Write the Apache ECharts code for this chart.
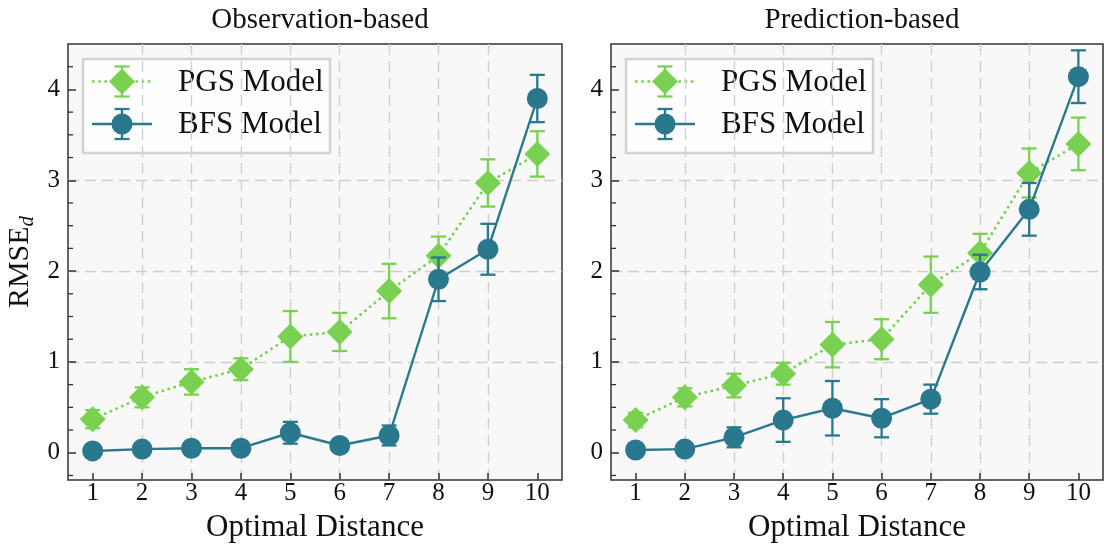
<!DOCTYPE html>
<html>
<head>
<meta charset="utf-8">
<script src="https://cdn.jsdelivr.net/npm/echarts@6/dist/echarts.min.js"></script>
<style>
  html, body { margin: 0; padding: 0; background: #ffffff; }
  #chart { width: 1104px; height: 548px; }
</style>
</head>
<body>
<div id="chart"></div>
<script>
// Optimal distance values on the x axis
const distances = [1, 2, 3, 4, 5, 6, 7, 8, 9, 10];

// Observation-based panel: mean RMSE_d and half-width of the error bars
const obsPGS    = [0.37, 0.61, 0.78, 0.92, 1.28, 1.33, 1.78, 2.17, 2.97, 3.29];
const obsPGSErr = [0.10, 0.11, 0.14, 0.12, 0.28, 0.21, 0.30, 0.21, 0.26, 0.25];
const obsBFS    = [0.02, 0.04, 0.05, 0.05, 0.22, 0.08, 0.19, 1.91, 2.24, 3.90];
const obsBFSErr = [0.01, 0.01, 0.01, 0.01, 0.12, 0.01, 0.11, 0.24, 0.28, 0.26];

// Prediction-based panel
const predPGS    = [0.36, 0.61, 0.74, 0.87, 1.19, 1.25, 1.85, 2.20, 3.08, 3.40];
const predPGSErr = [0.08, 0.10, 0.13, 0.12, 0.25, 0.22, 0.31, 0.21, 0.27, 0.29];
const predBFS    = [0.03, 0.04, 0.17, 0.36, 0.49, 0.38, 0.59, 1.99, 2.68, 4.14];
const predBFSErr = [0.01, 0.01, 0.11, 0.24, 0.30, 0.21, 0.16, 0.19, 0.29, 0.29];

// Tick positions
const xTicks = [1, 2, 3, 4, 5, 6, 7, 8, 9, 10];
const yTicks = [0, 1, 2, 3, 4];
const yMinorTicks = [-0.25, 0.25, 0.5, 0.75, 1.25, 1.5, 1.75, 2.25, 2.5, 2.75,
                     3.25, 3.5, 3.75, 4.25];

const panelTitles = ['Observation-based', 'Prediction-based'];
const seriesNames = ['PGS Model', 'BFS Model'];

const GREEN = '#7ad151';
const TEAL = '#2a788e';
const FONT = '"Liberation Serif", "DejaVu Serif", serif';
const INK = '#111111';
const X_MIN = 0.5, X_MAX = 10.5, Y_MIN = -0.3, Y_MAX = 4.5;

const grids = [
  { left: 68, top: 44, width: 494, height: 438 },
  { left: 611, top: 44, width: 492, height: 438 }
];

const chart = echarts.init(document.getElementById('chart'), null, { renderer: 'canvas' });

function pairs(ys) { return distances.map((x, i) => [x, ys[i]]); }
function triples(ys, es) { return distances.map((x, i) => [x, ys[i], es[i]]); }

// Vertical error bar with caps, positioned through the axis scales
function errorBar(color) {
  return function (params, api) {
    const x = api.value(0), y = api.value(1), e = api.value(2);
    const hi = api.coord([x, y + e]);
    const lo = api.coord([x, y - e]);
    const hw = 7.5;
    const style = { stroke: color, lineWidth: 2.3 };
    return {
      type: 'group',
      children: [
        { type: 'line', shape: { x1: hi[0], y1: hi[1], x2: lo[0], y2: lo[1] }, style },
        { type: 'line', shape: { x1: hi[0] - hw, y1: hi[1], x2: hi[0] + hw, y2: hi[1] }, style },
        { type: 'line', shape: { x1: lo[0] - hw, y1: lo[1], x2: lo[0] + hw, y2: lo[1] }, style }
      ]
    };
  };
}

// Short inward minor tick on the left spine at each quarter step
function minorTick(params, api) {
  const p = api.coord([api.value(0), api.value(1)]);
  return {
    type: 'line',
    shape: { x1: p[0], y1: p[1], x2: p[0] + 5, y2: p[1] },
    style: { stroke: '#333333', lineWidth: 1.3 }
  };
}

const gridLine = { color: '#cfcfcf', width: 1.4, type: [11, 6] };

const xAxes = grids.map((g, i) => ({
  gridIndex: i, type: 'value', min: X_MIN, max: X_MAX, splitNumber: 10,
  name: 'Optimal Distance', nameLocation: 'middle', nameGap: 32,
  nameTextStyle: { fontFamily: FONT, fontSize: 31, color: INK },
  axisLine: { show: false, onZero: false },
  axisTick: { show: true, inside: true, length: 7, customValues: xTicks,
              lineStyle: { color: '#333', width: 1.5 } },
  axisLabel: { customValues: xTicks, fontFamily: FONT, fontSize: 25, color: INK, margin: 1 },
  splitLine: { show: true, showMinLine: false, showMaxLine: false, lineStyle: gridLine }
}));

const yAxes = grids.map((g, i) => {
  const ax = {
    gridIndex: i, type: 'value', min: Y_MIN, max: Y_MAX, splitNumber: 5,
    axisLine: { show: false, onZero: false },
    axisTick: { show: true, inside: true, length: 8, customValues: yTicks,
                lineStyle: { color: '#333', width: 1.5 } },
    axisLabel: { customValues: yTicks, fontFamily: FONT, fontSize: 25, color: INK, margin: 8 },
    splitLine: { show: true, showMinLine: false, showMaxLine: false, lineStyle: gridLine }
  };
  if (i === 0) {
    ax.name = '{m|RMSE}{s|d}';
    ax.nameLocation = 'middle';
    ax.nameRotate = 90;
    ax.nameGap = 30;
    ax.nameTextStyle = {
      rich: {
        m: { fontFamily: FONT, fontSize: 30, color: INK },
        s: { fontFamily: FONT, fontSize: 21, fontStyle: 'italic', color: INK,
             verticalAlign: 'bottom', padding: [14, 0, 0, 0] }
      }
    };
  }
  return ax;
});

const panels = [
  { pgs: obsPGS, pgsErr: obsPGSErr, bfs: obsBFS, bfsErr: obsBFSErr },
  { pgs: predPGS, pgsErr: predPGSErr, bfs: predBFS, bfsErr: predBFSErr }
];

const series = [];
panels.forEach((p, i) => {
  series.push({
    type: 'custom', xAxisIndex: i, yAxisIndex: i, z: 1, silent: true, clip: false,
    renderItem: minorTick, data: yMinorTicks.map((v) => [X_MIN, v]),
    encode: { x: 0, y: 1 }
  });
  series.push({
    type: 'custom', name: seriesNames[0], xAxisIndex: i, yAxisIndex: i, z: 2,
    renderItem: errorBar(GREEN), data: triples(p.pgs, p.pgsErr),
    encode: { x: 0, y: 1 }, silent: true
  });
  series.push({
    type: 'line', name: seriesNames[0], xAxisIndex: i, yAxisIndex: i, z: 3,
    data: pairs(p.pgs), symbol: 'diamond', symbolSize: 26, showSymbol: true,
    itemStyle: { color: GREEN },
    lineStyle: { color: GREEN, width: 2.6, type: [2.6, 3.6] }
  });
  series.push({
    type: 'custom', name: seriesNames[1], xAxisIndex: i, yAxisIndex: i, z: 4,
    renderItem: errorBar(TEAL), data: triples(p.bfs, p.bfsErr),
    encode: { x: 0, y: 1 }, silent: true
  });
  series.push({
    type: 'line', name: seriesNames[1], xAxisIndex: i, yAxisIndex: i, z: 5,
    data: pairs(p.bfs), symbol: 'circle', symbolSize: 21, showSymbol: true,
    itemStyle: { color: TEAL },
    lineStyle: { color: TEAL, width: 2.4, type: 'solid' }
  });
});

// Legend boxes in the upper-left corner of each panel
const graphics = [];
grids.forEach((g) => {
  const bx = g.left + 15, by = 59, bw = 247, bh = 94;
  const rows = [
    { y: 81.5, color: GREEN, dash: [2.6, 3.6], lw: 2.6, sym: 'diamond', label: seriesNames[0] },
    { y: 124, color: TEAL, dash: null, lw: 2.4, sym: 'circle', label: seriesNames[1] }
  ];
  const children = [{
    type: 'rect', shape: { x: bx, y: by, width: bw, height: bh },
    style: { fill: 'rgba(255,255,255,0.8)', stroke: '#d2d2d2', lineWidth: 2.5 }
  }];
  rows.forEach((r) => {
    const x1 = g.left + 24, x2 = g.left + 84, cx = g.left + 54;
    children.push({ type: 'line', shape: { x1, y1: r.y, x2, y2: r.y },
      style: { stroke: r.color, lineWidth: r.lw, lineDash: r.dash } });
    children.push({ type: 'line', shape: { x1: cx, y1: r.y - 15, x2: cx, y2: r.y + 15 },
      style: { stroke: r.color, lineWidth: 2.3 } });
    children.push({ type: 'line', shape: { x1: cx - 7.5, y1: r.y - 15, x2: cx + 7.5, y2: r.y - 15 },
      style: { stroke: r.color, lineWidth: 2.3 } });
    children.push({ type: 'line', shape: { x1: cx - 7.5, y1: r.y + 15, x2: cx + 7.5, y2: r.y + 15 },
      style: { stroke: r.color, lineWidth: 2.3 } });
    if (r.sym === 'diamond') {
      children.push({ type: 'polygon',
        shape: { points: [[cx, r.y - 13], [cx + 13, r.y], [cx, r.y + 13], [cx - 13, r.y]] },
        style: { fill: r.color } });
    } else {
      children.push({ type: 'circle', shape: { cx, cy: r.y, r: 10.5 }, style: { fill: r.color } });
    }
    children.push({ type: 'text', x: g.left + 110, y: r.y + 1,
      style: { text: r.label, fill: INK, font: '31px ' + FONT, verticalAlign: 'middle', align: 'left' } });
  });
  graphics.push({ type: 'group', z: 100, children });
});

const option = {
  animation: false,
  backgroundColor: '#ffffff',
  title: grids.map((g, i) => ({
    text: panelTitles[i], left: g.left + g.width / 2, top: 1, textAlign: 'center',
    textStyle: { fontFamily: FONT, fontSize: 29, fontWeight: 'normal', color: INK }
  })),
  grid: grids.map((g) => ({
    left: g.left, top: g.top, width: g.width, height: g.height,
    show: true, backgroundColor: '#f8f8f8', borderColor: '#333333', borderWidth: 1.5
  })),
  xAxis: xAxes,
  yAxis: yAxes,
  series: series,
  graphic: graphics
};

chart.setOption(option);
</script>
</body>
</html>
